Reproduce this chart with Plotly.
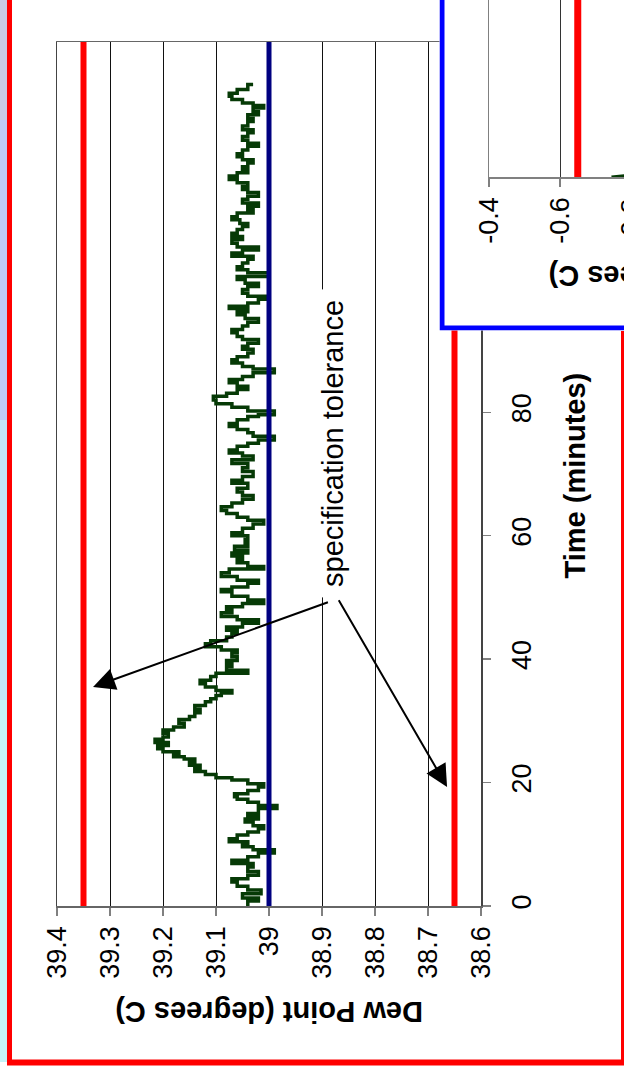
import plotly.graph_objects as go

W, H = 624, 1074
FONT = "Liberation Sans, Arial, sans-serif"

# ---------------- data ----------------
TIME_MIN = [
    0, 0.8, 1.3, 2.0, 2.6, 3.2, 3.9, 4.4, 5.0, 5.6, 6.3, 6.9, 7.4, 8.0, 8.6, 9.1, 9.6, 10.0, 10.4, 10.9,
    11.5, 12.0, 12.5, 13.0, 13.6, 14.1, 14.5, 15.0, 15.8, 16.3, 16.8, 17.3, 17.7, 18.2, 18.7, 19.3, 19.8,
    20.4, 20.8, 21.3, 21.8, 22.3, 22.8, 23.3, 23.8, 24.2, 24.6, 25.0, 25.5, 26.0, 26.5, 27.0, 27.4, 28.0,
    28.5, 29.0, 29.6, 30.2, 30.7, 31.3, 31.9, 32.5, 33.1, 33.6, 34.1, 34.5, 34.9,
    35.5, 36.0, 36.6, 37.2, 37.7, 38.2, 38.8, 39.3, 39.8, 40.4, 41.0, 41.5, 42.0, 42.5, 43.0, 43.6, 44.2,
    44.7, 45.2, 45.8, 46.4, 46.9, 47.5, 48.0, 48.5, 49.0, 49.6, 50.2, 50.9, 51.3, 51.7, 52.3, 52.8, 53.4,
    54.0, 54.6, 55.0, 55.6, 56.2, 56.7, 57.2, 57.7, 58.3, 58.8, 59.4, 60.0, 60.5, 61.2, 61.9, 62.5, 63.0,
    63.6, 64.1, 64.7, 65.3, 65.9, 66.5, 67.1, 67.7, 68.5, 69.0, 69.6, 70.4,
    71.0, 71.7, 72.3, 72.9, 73.4, 73.9, 74.5, 75.0, 75.5, 76.1, 76.7, 77.2, 77.7, 78.2, 78.8, 79.3, 79.6,
    80.2, 80.8, 81.4, 82.0, 82.6, 83.1, 83.7, 84.2, 84.8, 85.3, 85.8, 86.4, 87.0, 87.4, 88.0, 88.5, 89.0,
    89.6, 90.2, 90.7, 91.2, 91.8, 92.3, 92.9, 93.4, 94.0, 94.6, 95.2, 95.8, 96.3, 96.8, 97.2, 97.7, 98.3,
    98.8, 99.3, 99.9, 100.4, 100.9, 101.5, 102.0, 102.6, 103.1, 103.6, 104.2, 104.8,
    105.3, 105.8, 106.3, 106.8, 107.4, 108.0, 108.5, 109.0, 109.6, 110.1, 110.6, 111.2, 111.7, 112.3,
    112.8, 113.4, 113.9, 114.5, 115.0, 115.6, 116.1, 116.6, 117.2, 117.7, 118.3, 118.8, 119.3, 119.8,
    120.4, 120.9, 121.4, 121.9, 122.5, 123.1, 123.6, 124.1, 124.7, 125.3, 125.8, 126.4, 127.1, 127.6,
    128.2, 128.7, 129.3, 129.7, 130.1, 130.7, 131.2, 131.7, 132.3, 133.1,
]
DEW_POINT = [
    39.04, 39.02, 39.05, 39.015, 39.04, 39.06, 39.07, 39.04, 39.02, 39.04, 39.03, 39.07, 39.04, 39.02, 38.99, 39.03, 39.05, 39.04, 39.075, 39.06,
    39.04, 39.02, 39.01, 39.03, 39.045, 39.02, 39.04, 39.02, 38.985, 39.02, 39.04, 39.06, 39.065, 39.04, 39.02, 39.01, 39.04,
    39.07, 39.10, 39.12, 39.14, 39.13, 39.15, 39.14, 39.16, 39.18, 39.17, 39.20, 39.21, 39.19, 39.215, 39.20, 39.19, 39.20,
    39.18, 39.16, 39.17, 39.15, 39.14, 39.13, 39.14, 39.12, 39.11, 39.10, 39.09, 39.07, 39.10,
    39.12, 39.13, 39.11, 39.10, 39.04, 39.08, 39.07, 39.08, 39.06, 39.07, 39.06, 39.09, 39.12, 39.11, 39.08, 39.07, 39.06,
    39.08, 39.05, 39.02, 39.06, 39.09, 39.07, 39.08, 39.05, 39.01, 39.04, 39.07, 39.09, 39.07, 39.04, 39.02, 39.06, 39.09,
    39.075, 39.01, 39.04, 39.06, 39.05, 39.07, 39.04, 39.065, 39.04, 39.045, 39.04, 39.07, 39.05, 39.03, 39.01, 39.04, 39.06,
    39.08, 39.09, 39.07, 39.05, 39.03, 39.05, 39.06, 39.04, 39.07, 39.05, 39.03, 39.05,
    39.04, 39.07, 39.03, 39.05, 39.075, 39.06, 39.04, 39.02, 38.99, 39.03, 39.04, 39.06, 39.075, 39.06, 39.04, 39.02, 38.99,
    39.04, 39.07, 39.10, 39.105, 39.08, 39.06, 39.04, 39.06, 39.075, 39.05, 39.03, 38.99, 39.03, 39.05, 39.07, 39.06, 39.04,
    39.03, 39.05, 39.04, 39.02, 39.05, 39.06, 39.07, 39.05, 39.04, 39.02, 39.045, 39.06, 39.04, 39.075, 39.04, 39.02, 39.00,
    39.04, 39.05, 39.04, 39.02, 39.045, 39.06, 39.00, 39.04, 39.06, 39.05, 39.04, 39.03,
    39.07, 39.05, 39.02, 39.06, 39.07, 39.05, 39.07, 39.06, 39.05, 39.04, 39.055, 39.07, 39.06, 39.03,
    39.04, 39.02, 39.05, 39.04, 39.02, 39.04, 39.05, 39.04, 39.06, 39.075, 39.06, 39.04, 39.05, 39.04,
    39.03, 39.05, 39.06, 39.05, 39.04, 39.02, 39.04, 39.05, 39.04, 39.03, 39.05, 39.04, 39.03, 39.04,
    39.02, 39.03, 39.01, 39.03, 39.05, 39.07, 39.075, 39.06, 39.04, 39.03,
]
UPPER_TOL = 39.35
LOWER_TOL = 38.65
SETPOINT = 39.0
TIME_RANGE = [0, 140]
TIME_TICKS = [0, 20, 40, 60, 80, 100, 120, 140]
DEW_RANGE = [39.4, 38.6]
DEW_TICKS = [39.4, 39.3, 39.2, 39.1, 39.0, 38.9, 38.8, 38.7, 38.6]
DEW_TICK_TEXT = ["39.4", "39.3", "39.2", "39.1", "39", "38.9", "38.8", "38.7", "38.6"]

# inset (deviation chart, mostly hidden)
INSET_TICKS = [-0.4, -0.6, -0.8]
INSET_TICK_TEXT = ["-0.4", "-0.6", "-0.8"]
INSET_TOL = -0.65
INSET_T = [0.0, 0.6, 1.2]
INSET_DEV = [-0.745, -0.76, -0.79]

ANNOT_TEXT = "specification tolerance"
ARROW_TIPS = [(39.332, 35.5), (38.664, 19.3)]
ARROW_TAILS = [(38.886, 49.3), (38.870, 49.8)]


def px(x):
    return x / W


def py(y):
    return 1 - y / H


# main plot area in pixels
MX0, MX1, MY0, MY1 = 57, 481, 42, 906
# inset plot area
IX0, IY1 = 489, 177
INSET_PX_PER_UNIT = 355.0
INSET_RANGE = [-0.4, -0.4 - (W - IX0) / INSET_PX_PER_UNIT]
# inset box
BX0, BY1 = 439.5, 330.5

fig = go.Figure()

# main traces
fig.add_trace(go.Scatter(x=[UPPER_TOL, UPPER_TOL], y=TIME_RANGE, mode="lines",
                         line=dict(color="#ff0000", width=6), xaxis="x", yaxis="y"))
fig.add_trace(go.Scatter(x=[LOWER_TOL, LOWER_TOL], y=TIME_RANGE, mode="lines",
                         line=dict(color="#ff0000", width=6), xaxis="x", yaxis="y"))
fig.add_trace(go.Scatter(x=DEW_POINT, y=TIME_MIN, mode="lines", line_shape="vh",
                         line=dict(color="#063a06", width=3.5), xaxis="x", yaxis="y"))
fig.add_trace(go.Scatter(x=[SETPOINT, SETPOINT], y=TIME_RANGE, mode="lines",
                         line=dict(color="#000080", width=5), xaxis="x", yaxis="y"))

# inset box (white with blue border), in its own subplot above the main one
bx_in = 2.5 / (W - BX0)
by_in = 2.5 / BY1
fig.add_trace(go.Scatter(x=[bx_in, bx_in, 1.5, 1.5, bx_in], y=[1.5, by_in, by_in, 1.5, 1.5],
                         mode="lines", fill="toself", fillcolor="white",
                         line=dict(color="#0000ff", width=5), xaxis="x2", yaxis="y2"))

# inset chart content
fig.add_trace(go.Scatter(x=[INSET_TOL, INSET_TOL], y=TIME_RANGE, mode="lines",
                         line=dict(color="#ff0000", width=7), xaxis="x3", yaxis="y3"))
fig.add_trace(go.Scatter(x=INSET_DEV, y=INSET_T, mode="lines",
                         line=dict(color="#063a06", width=3), xaxis="x3", yaxis="y3"))

tickfont = dict(family=FONT, size=27, color="black")

fig.update_layout(
    template="none",
    width=W, height=H, autosize=False,
    margin=dict(l=0, r=0, t=0, b=0, pad=0, autoexpand=False),
    paper_bgcolor="white", plot_bgcolor="white",
    showlegend=False,
    xaxis=dict(domain=[px(MX0), px(MX1)], range=DEW_RANGE, anchor="y", automargin=False,
               tickmode="array", tickvals=DEW_TICKS, ticktext=DEW_TICK_TEXT,
               tickangle=-90, tickfont=tickfont, ticks="outside", ticklen=8,
               tickcolor="#808080", tickwidth=1.5,
               showgrid=True, gridcolor="#111111", gridwidth=1,
               showline=True, linecolor="#666666", linewidth=1.5, mirror=True,
               zeroline=False, fixedrange=True),
    yaxis=dict(domain=[py(MY1), py(MY0)], range=TIME_RANGE, anchor="x", side="right",
               automargin=False, ticklabelstandoff=8,
               tickmode="array", tickvals=TIME_TICKS,
               tickangle=-90, tickfont=tickfont, ticks="outside", ticklen=8,
               tickcolor="#808080", tickwidth=1.5, showgrid=False,
               showline=True, linecolor="#444444", linewidth=1.5, mirror=True,
               zeroline=False, fixedrange=True),
    xaxis2=dict(domain=[px(BX0), 1], range=[0, 1], anchor="y2", visible=False,
                automargin=False, fixedrange=True),
    yaxis2=dict(domain=[py(BY1), 1], range=[0, 1], anchor="x2", visible=False,
                automargin=False, fixedrange=True),
    xaxis3=dict(domain=[px(IX0), 1], range=INSET_RANGE, anchor="y3", automargin=False,
                tickmode="array", tickvals=INSET_TICKS, ticktext=INSET_TICK_TEXT,
                tickangle=-90, tickfont=tickfont, ticks="outside", ticklen=8,
                tickcolor="#808080", tickwidth=1.5,
                showgrid=True, gridcolor="#333333", gridwidth=1,
                showline=True, linecolor="#808080", linewidth=1.5,
                zeroline=False, fixedrange=True),
    yaxis3=dict(domain=[py(IY1), 1], range=TIME_RANGE, anchor="x3", automargin=False,
                showticklabels=False, ticks="", showgrid=False,
                showline=True, linecolor="#808080", linewidth=1.5,
                zeroline=False, fixedrange=True),
)

annotations = []
# specification tolerance label
annotations.append(dict(x=38.879, y=74.9, xref="x", yref="y", text=ANNOT_TEXT,
                        xanchor="center", yanchor="middle",
                        showarrow=False, textangle=-90, bgcolor="white", borderpad=10,
                        font=dict(family=FONT, size=29, color="black")))
for (tx, ty), (ax, ay) in zip(ARROW_TIPS, ARROW_TAILS):
    annotations.append(dict(x=tx, y=ty, xref="x", yref="y", ax=ax, ay=ay, axref="x", ayref="y",
                            text="", showarrow=True, arrowhead=2, arrowsize=2.2, arrowwidth=2,
                            arrowcolor="black"))
# axis titles
annotations.append(dict(x=px(269.5), y=py(1012.5), xref="paper", yref="paper",
                        xanchor="center", yanchor="middle",
                        text="<b>Dew Point (degrees C)</b>", showarrow=False, textangle=180,
                        font=dict(family=FONT, size=29, color="black")))
annotations.append(dict(x=px(574.5), y=py(476), xref="paper", yref="paper",
                        xanchor="center", yanchor="middle",
                        text="<b>Time (minutes)</b>", showarrow=False, textangle=-90,
                        font=dict(family=FONT, size=29, color="black")))
annotations.append(dict(x=px(547), y=py(276), xref="paper", yref="paper",
                        xanchor="left", yanchor="middle",
                        text="<b>Dew Point Deviation (degrees C)</b>", showarrow=False, textangle=180,
                        font=dict(family=FONT, size=29, color="black")))
# the -0.8 inset label falls just past the page edge
x08 = IX0 + (INSET_TICKS[0] - INSET_TICKS[2]) * INSET_PX_PER_UNIT
annotations.append(dict(x=px(x08), y=py(222), xref="paper", yref="paper",
                        xanchor="center", yanchor="middle",
                        text=INSET_TICK_TEXT[2], showarrow=False, textangle=-90,
                        font=tickfont))
fig.update_layout(annotations=annotations)

shapes = []
# left background strip (gradient approximation)
for y0, y1, c in [(0, 120, "#c9cbe6"), (120, 420, "#bfc9f7"), (420, 700, "#c3e6f8"), (700, 1062, "#c6f4f8")]:
    shapes.append(dict(type="rect", xref="paper", yref="paper", x0=0, x1=px(7),
                       y0=py(y1), y1=py(y0), fillcolor=c, line=dict(width=0), layer="below"))
# red frame
shapes.append(dict(type="line", xref="paper", yref="paper", x0=px(9.5), x1=px(9.5),
                   y0=py(-5), y1=py(1065), line=dict(color="#ff0000", width=5), layer="below"))
shapes.append(dict(type="line", xref="paper", yref="paper", x0=px(7), x1=px(630),
                   y0=py(1062.5), y1=py(1062.5), line=dict(color="#ff0000", width=6), layer="below"))
shapes.append(dict(type="line", xref="paper", yref="paper", x0=px(622.5), x1=px(622.5),
                   y0=py(331), y1=py(1065), line=dict(color="#ff0000", width=3), layer="below"))
fig.update_layout(shapes=shapes)

fig.write_html(
    "out.html",
    config={"displayModeBar": False, "staticPlot": True},
    post_script="document.body.style.margin='0px';document.body.style.overflow='hidden';",
)
